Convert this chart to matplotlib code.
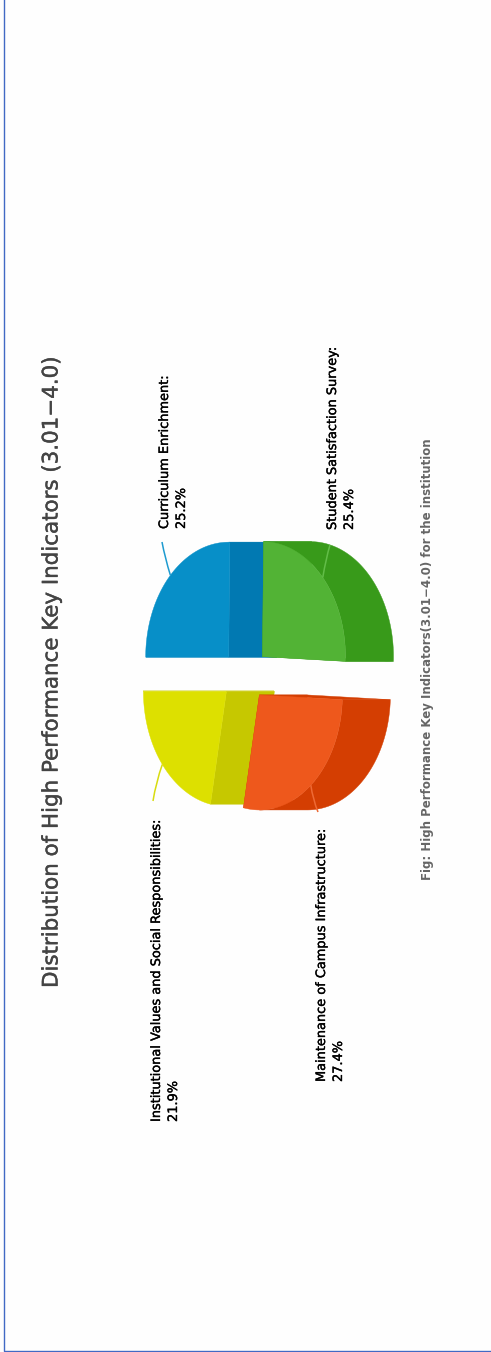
# -*- coding: utf-8 -*-
import numpy as np
import matplotlib
matplotlib.use("Agg")
import matplotlib.pyplot as plt
import matplotlib.patheffects as pe
from matplotlib.patches import PathPatch
from matplotlib.path import Path

# data
categories = ["Curriculum Enrichment", "Student Satisfaction Survey",
              "Maintenance of Campus Infrastructure",
              "Institutional Values and Social Responsibilities"]
values = [25.2, 25.4, 27.4, 21.9]
title = "Distribution of High Performance Key Indicators (3.01\u22124.0)"
caption = "Fig: High Performance Key Indicators(3.01\u22124.0) for the institution"

# layout, in pixels of the finished picture (the chart is turned on its side)
cx, cy = 245, 676
semi_x, semi_y = 83, 115
depth = 48
explode_x = [0.28, 0.29, 0.28, 0.29]
explode_y = [0.23, 0.245, 0.21, 0.21]
top_colors = ["#078FC8", "#52B335", "#EE581C", "#DDE000"]
side_colors = ["#0179B2", "#389A1A", "#D43E02", "#C6C800"]
line_colors = ["#1E9BD0", "#62BD48", "#EE6A35", "#D8DC10"]
label_pos = [(158, 529), (326, 530), (315, 1082), (150, 1122)]
leader_tips = [(162, 542), (330, 545), (318, 812), (153, 801)]
leader_bend = [(165, 558), (326, 558), (313, 800), (156, 782)]
draw_order = [0, 3, 1, 2]


def arc(ax_center, a0, a1, n=80):
    # angles run clockwise from 12 o'clock of the unturned chart
    t = np.radians(np.linspace(a0, a1, n))
    return np.column_stack([ax_center[0] - semi_x * np.cos(t),
                            ax_center[1] - semi_y * np.sin(t)])


def fill(ax, pts, color, z):
    ax.fill(pts[:, 0], pts[:, 1], color=color, lw=0.3, zorder=z)


fig = plt.figure(figsize=(4.91, 13.52), dpi=100, facecolor="#FEFEFE")
ax = fig.add_axes([0, 0, 1, 1])
ax.set_xlim(0, 491)
ax.set_ylim(1352, 0)
ax.axis("off")

ends = np.cumsum(values) / np.sum(values) * 360
starts = np.concatenate([[0], ends[:-1]])
shift = np.array([depth, 0])
heavier = [pe.withStroke(linewidth=0.25, foreground="black")]

for z, i in enumerate(draw_order):
    a0, a1 = starts[i], ends[i]
    mid = np.radians((a0 + a1) / 2)
    apex = np.array([cx - explode_x[i] * semi_x * np.cos(mid),
                     cy - explode_y[i] * semi_y * np.sin(mid)])
    top = arc(apex, a0, a1)
    # radial faces
    for edge in (top[0], top[-1]):
        face = np.array([apex, apex + shift, edge + shift, edge])
        fill(ax, face, side_colors[i], z * 2)
    # outer wall, only the part of the rim that faces the viewer
    lo, hi = max(a0, 90), min(a1, 270)
    if lo < hi:
        rim = arc(apex, lo, hi)
        fill(ax, np.vstack([rim, (rim + shift)[::-1]]), side_colors[i], z * 2)
    fill(ax, np.vstack([apex, top]), top_colors[i], z * 2 + 1)

    # leader line from the rim middle, curving out to the label
    start = arc(apex, np.degrees(mid), np.degrees(mid), 1)[0]
    path = Path([start, leader_bend[i], leader_tips[i]],
                [Path.MOVETO, Path.CURVE3, Path.CURVE3])
    ax.add_patch(PathPatch(path, fc="none", ec=line_colors[i], lw=1.1, zorder=20))
    ax.text(label_pos[i][0], label_pos[i][1],
            "%s:\n%.1f%%" % (categories[i], values[i]),
            rotation=90, ha="left", va="bottom", multialignment="left",
            fontsize=9.3, color="black", family="DejaVu Sans", linespacing=1.4,
            zorder=21, path_effects=heavier)

ax.text(41.5, 988, title, rotation=90, ha="left", va="bottom", fontsize=15.4,
        color="#444444", family="DejaVu Sans",
        path_effects=[pe.withStroke(linewidth=0.3, foreground="#444444")])
ax.text(421, 880, caption, rotation=90, ha="left", va="bottom", fontsize=8.45,
        color="#666666", family="DejaVu Sans", fontweight="bold")

# thin blue frame on the left and bottom
ax.plot([4.5, 4.5, 491], [0, 1351, 1351], color="#4169C4", lw=1.0, zorder=30)

fig.savefig("out.png", dpi=100, facecolor=fig.get_facecolor())
